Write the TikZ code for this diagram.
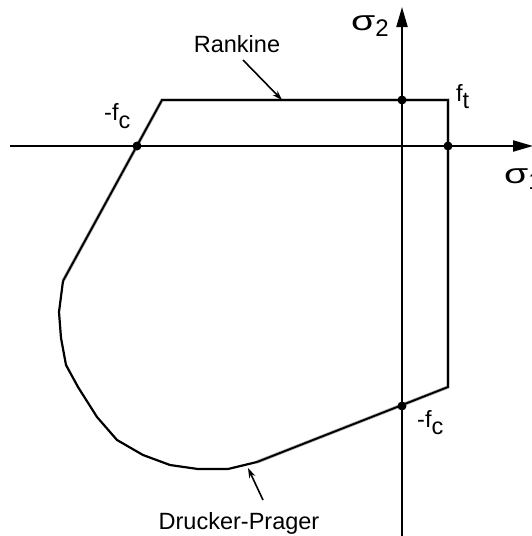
\documentclass[tikz,border=0pt]{standalone}
\usepackage{fontspec}
\setmainfont{Liberation Sans}
\usetikzlibrary{arrows.meta}
\tikzset{
  lbl/.style={font=\fontsize{23.5}{26}\selectfont, inner sep=0pt, anchor=base west},
  sig/.style={font=\fontsize{28}{30}\selectfont, inner sep=0pt, anchor=base west},
  axis/.style={line width=2.1pt, -{Triangle[length=20pt,width=11pt]}},
  pt/.style={circle, fill=black, inner sep=0pt, minimum size=9pt},
  ptr/.style={line width=1.6pt, -{Stealth[length=10pt,width=6.5pt]}},
  outg/.style={gray!60, line width=3.4pt, line join=miter},
  outk/.style={black, line width=1.9pt, line join=miter, xshift=-0.8pt, yshift=0.8pt},
  curv/.style={black, line width=2.2pt, line join=round}
}
\begin{document}
\begin{tikzpicture}[x=1pt,y=-1pt]
\useasboundingbox (0,0) rectangle (531,536);
% key points
\coordinate (A) at (63,281);
\coordinate (B) at (162,100);
\coordinate (C) at (448,100);
\coordinate (D) at (448,387);
\coordinate (E) at (257,462);
% Rankine / double outline
\draw[outg] (A) -- (B) -- (C) -- (D) -- (E);
\draw[outk] (A) -- (B) -- (C) -- (D) -- (E);
% Drucker-Prager curved part
\draw[curv] (A) -- (59,312) -- (61,338) -- (66,365) -- (78,387) -- (97,417)
  -- (117,440) -- (143,455) -- (170,465) -- (198,469) -- (228,469) -- (E);
% axes
\coordinate (xs) at (10,146);
\coordinate (xe) at (533,146);
\coordinate (ys) at (402,536);
\coordinate (ye) at (402,7);
\draw[axis] (xs) -- (xe);
\draw[axis] (ys) -- (ye);
% dots
\node[pt] (p1) at (402,100) {};
\node[pt] (p2) at (448,146) {};
\node[pt] (p3) at (137,146) {};
\node[pt] (p4) at (402,406) {};
% labels
\node[sig] (s2) at (351,30) {\scalebox{1.4}[1]{σ}\raisebox{-6pt}{\fontsize{24}{26}\selectfont 2}};
\node[sig] (s1) at (504,183) {\scalebox{1.4}[1]{σ}\raisebox{-6pt}{\fontsize{24}{26}\selectfont 1}};
\node[lbl] (ft) at (456,101) {f\raisebox{-7pt}{t}};
\node[lbl] (fc1) at (104,120) {-f\raisebox{-8pt}{c}};
\node[lbl] (fc2) at (417,427) {-f\raisebox{-7pt}{c}};
\node[lbl, anchor=base] (rk) at (237,52) {Rankine};
\node[lbl, anchor=base] (dp) at (239,529) {Drucker-Prager};
% pointers
\coordinate (rkA) at (243,60);
\coordinate (rkB) at (282,100);
\coordinate (dpA) at (263,500);
\coordinate (dpB) at (248,468);
\draw[ptr] (rkA) -- (rkB);
\draw[ptr] (dpA) -- (dpB);
\end{tikzpicture}
\end{document}
